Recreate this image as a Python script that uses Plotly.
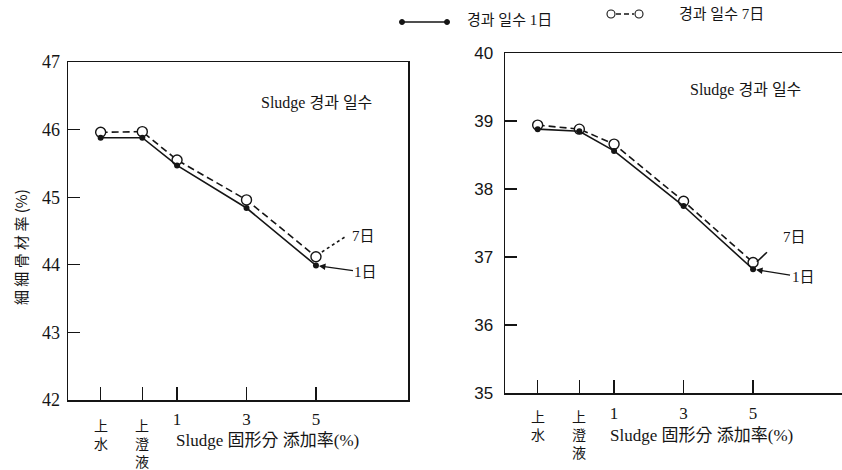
import plotly.graph_objects as go

# ---------------- data ----------------
categories = ['上水', '上澄液', '1', '3', '5']
x_pos = [-1.2, 0, 1, 3, 5]
left_1day = [45.88, 45.88, 45.47, 44.84, 43.99]
left_7day = [45.96, 45.97, 45.55, 44.96, 44.12]
right_1day = [38.88, 38.85, 38.56, 37.75, 36.82]
right_7day = [38.94, 38.88, 38.66, 37.82, 36.92]
left_yticks = [42, 43, 44, 45, 46, 47]
right_yticks = [35, 36, 37, 38, 39, 40]
series_names = ['경과 일수 1日', '경과 일수 7日']
panel_note = 'Sludge 경과 일수'
x_title = 'Sludge 固形分 添加率(%)'
y_title = '細 細 骨 材 率 (%)'

W, H = 842, 470
INK = '#151515'
SERIF = 'Liberation Serif, Noto Sans CJK KR, serif'
SANS = 'Liberation Sans, Noto Sans CJK KR, sans-serif'
CJK = 'Noto Sans CJK KR, Noto Sans CJK JP, sans-serif'


def px(x):
    return x / W


def py(y):
    return 1 - y / H


fig = go.Figure()

panels = [('x', 'y', left_1day, left_7day), ('x2', 'y2', right_1day, right_7day)]
for xa, ya, d1, d7 in panels:
    fig.add_trace(go.Scatter(
        x=x_pos, y=d7, xaxis=xa, yaxis=ya, mode='lines+markers',
        name=series_names[1], showlegend=False, hoverinfo='skip',
        line=dict(color=INK, width=1.6, dash='7px,4px'),
        marker=dict(symbol='circle', size=10, color='white',
                    line=dict(color=INK, width=1.4))))
    fig.add_trace(go.Scatter(
        x=x_pos, y=d1, xaxis=xa, yaxis=ya, mode='lines+markers',
        name=series_names[0], showlegend=False, hoverinfo='skip',
        line=dict(color=INK, width=1.6),
        marker=dict(symbol='circle', size=6, color=INK)))

xtick_text = ['', ''] + categories[2:]
common_x = dict(tickvals=x_pos, ticktext=xtick_text, ticks='inside', ticklen=13,
                tickwidth=1.4, tickcolor=INK, showline=True, linecolor=INK,
                linewidth=1.5, showgrid=False, zeroline=False, automargin=False,
                tickfont=dict(family=SERIF, size=17, color=INK))
common_y = dict(ticks='inside', ticklen=12, tickwidth=1.4, tickcolor=INK,
                showline=True, linecolor=INK, linewidth=1.5, showgrid=False,
                zeroline=False, automargin=False)

fig.update_layout(
    width=W, height=H, margin=dict(l=0, r=0, t=0, b=0, pad=0, autoexpand=False),
    paper_bgcolor='white', plot_bgcolor='white', showlegend=False,
    xaxis=dict(common_x, domain=[px(68), px(408)], range=[-2.14, 7.65],
               anchor='y', mirror=True, ticklabelstandoff=3),
    yaxis=dict(common_y, domain=[py(400), py(62)], range=[42, 47],
               tickvals=left_yticks, anchor='x', mirror=True,
               ticklabelstandoff=3,
               tickfont=dict(family=SERIF, size=18, color=INK)),
    xaxis2=dict(common_x, domain=[px(505), 1.0], range=[-2.14, 7.56],
                anchor='y2', mirror=True, ticklabelstandoff=4),
    yaxis2=dict(common_y, domain=[py(393), py(53)], range=[35, 40],
                tickvals=right_yticks, anchor='x2', mirror=False,
                ticklabelstandoff=7,
                tickfont=dict(family=SANS, size=17, color=INK)),
)


def note(x, y, text, font, **kw):
    d = dict(x=px(x), y=py(y), xref='paper', yref='paper', text=text,
             showarrow=False, xanchor='center', yanchor='middle', font=font)
    d.update(kw)
    return d


ann = []
# stacked CJK tick labels
for xa, top in (('x', 413), ('x2', 404)):
    for i in (0, 1):
        ann.append(dict(x=x_pos[i], xref=xa, y=py(top), yref='paper',
                        text='<br>'.join(categories[i]), showarrow=False,
                        xanchor='center', yanchor='top',
                        font=dict(family=CJK, size=14, color=INK)))

# axis titles
ann.append(note(267, 440, x_title, dict(family=SERIF, size=17, color=INK)))
ann.append(note(701, 435, x_title, dict(family=SERIF, size=17, color=INK)))
ann.append(note(20, 247, y_title, dict(family=CJK, size=15, color=INK), textangle=-90))

# panel notes
ann.append(note(316, 103, panel_note, dict(family=SERIF, size=16, color=INK)))
ann.append(note(745, 90, panel_note, dict(family=SERIF, size=16, color=INK)))

# series labels near the last point
ann.append(dict(x=x_pos[4], y=left_1day[4], xref='x', yref='y', text='1日',
                showarrow=True, ax=50, ay=7, arrowhead=2, arrowsize=1,
                arrowwidth=1.3, arrowcolor=INK, standoff=3,
                font=dict(family=SERIF, size=15, color=INK)))
ann.append(dict(x=x_pos[4], y=left_7day[4], xref='x', yref='y', text='7日',
                showarrow=False, xshift=48, yshift=21, xanchor='center', yanchor='middle',
                font=dict(family=SERIF, size=15, color=INK)))
ann.append(dict(x=x_pos[4], y=right_1day[4], xref='x2', yref='y2', text='1日',
                showarrow=True, ax=50, ay=8, arrowhead=2, arrowsize=1,
                arrowwidth=1.3, arrowcolor=INK, standoff=3,
                font=dict(family=SERIF, size=15, color=INK)))
ann.append(dict(x=x_pos[4], y=right_7day[4], xref='x2', yref='y2', text='7日',
                showarrow=False, xshift=41, yshift=25, xanchor='center', yanchor='middle',
                font=dict(family=SERIF, size=15, color=INK)))

# legend texts
ann.append(note(465, 20, series_names[0], dict(family=SERIF, size=15, color=INK),
                xanchor='left'))
ann.append(note(677, 14, series_names[1], dict(family=SERIF, size=15, color=INK),
                xanchor='left'))

shapes = []
# leader lines for 7日 labels
shapes.append(dict(type='line', xref='x', yref='y', x0=5.17, y0=44.19, x1=5.89, y1=44.43,
                   line=dict(color=INK, width=1.6, dash='dot')))
shapes.append(dict(type='line', xref='x2', yref='y2', x0=5.11, y0=36.93, x1=5.40, y1=37.07,
                   line=dict(color=INK, width=1.6)))

# legend glyphs
shapes.append(dict(type='line', xref='paper', yref='paper', x0=px(402), x1=px(447),
                   y0=py(22), y1=py(22), line=dict(color=INK, width=1.4)))
for cx in (402, 447):
    shapes.append(dict(type='circle', xref='paper', yref='paper', xsizemode='pixel',
                       ysizemode='pixel', xanchor=px(cx), yanchor=py(22),
                       x0=-2.5, x1=2.5, y0=-2.5, y1=2.5, fillcolor=INK,
                       line=dict(color=INK, width=1)))
shapes.append(dict(type='line', xref='paper', yref='paper', x0=px(616), x1=px(634),
                   y0=py(14), y1=py(14), line=dict(color=INK, width=1.4, dash='5px,3px')))
for cx in (611, 639):
    shapes.append(dict(type='circle', xref='paper', yref='paper', xsizemode='pixel',
                       ysizemode='pixel', xanchor=px(cx), yanchor=py(14),
                       x0=-4, x1=4, y0=-4, y1=4, fillcolor='white',
                       line=dict(color=INK, width=1.1)))

fig.update_layout(annotations=ann, shapes=shapes)

fig.write_html('out.html',
               config={'displayModeBar': False, 'staticPlot': True},
               post_script="document.body.style.margin='0';"
                           "document.body.style.overflow='hidden';")
